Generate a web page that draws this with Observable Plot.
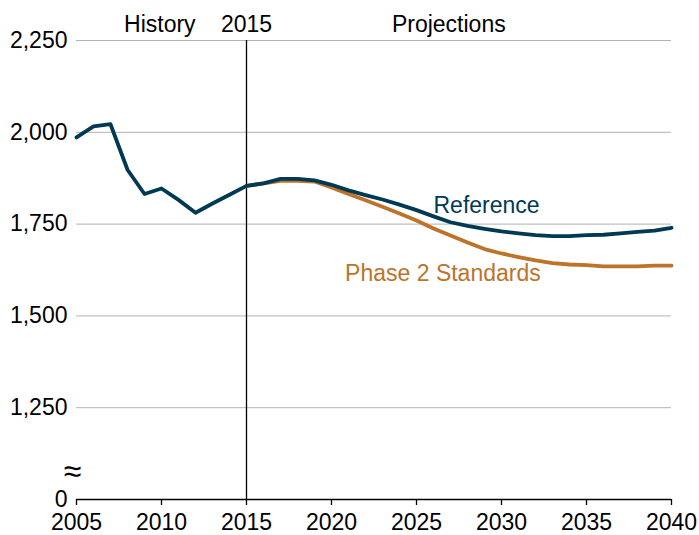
<!DOCTYPE html>
<html><head><meta charset="utf-8">
<script src="https://cdn.jsdelivr.net/npm/d3@7"></script>
<script src="https://cdn.jsdelivr.net/npm/@observablehq/plot@0.6"></script>
<style>
body{margin:0;background:#fff}
svg{font-family:"Liberation Sans",Arial,sans-serif}
</style>
</head><body><div id="chart"></div>
<script>
const years = [2005,2006,2007,2008,2009,2010,2011,2012,2013,2014,2015,2016,2017,2018,2019,2020,2021,2022,2023,2024,2025,2026,2027,2028,2029,2030,2031,2032,2033,2034,2035,2036,2037,2038,2039,2040];
const reference = [1986,2016,2022,1898,1832,1847,1816,1781,1806,1830,1854,1861,1873,1873,1869,1857,1842,1829,1817,1803,1788,1771,1755,1745,1737,1730,1725,1720,1717,1717,1720,1721,1725,1729,1732,1740];
const phase2Years = [2015,2016,2017,2018,2019,2020,2021,2022,2023,2024,2025,2026,2027,2028,2029,2030,2031,2032,2033,2034,2035,2036,2037,2038,2039,2040];
const phase2 = [1854,1861,1868,1868,1866,1850,1832,1815,1797,1779,1760,1738,1719,1700,1682,1670,1660,1651,1644,1640,1638,1635,1635,1635,1637,1637];

const xTicks = [2005,2010,2015,2020,2025,2030,2035,2040];
const yTicks = [1000,1250,1500,1750,2000,2250];
const yTickLabels = ["0","1,250","1,500","1,750","2,000","2,250"];
const gridValues = [1250,1500,1750,2000,2250];

const periodLabels = ["History","2015","Projections"];
const periodYears = [2009.9,2015,2026.9];

const seriesNames = ["Reference","Phase 2 Standards"];
const seriesLabelYears = [2026.0,2020.8];
const seriesLabelValues = [1779,1596];
const seriesColors = ["#003953","#bd732a"];

const refData = years.map((y,i)=>({year:y, value:reference[i]}));
const p2Data = phase2Years.map((y,i)=>({year:y, value:phase2[i]}));
const periodData = periodLabels.map((t,i)=>({t, x:periodYears[i]}));
const seriesLabelData = seriesNames.map((t,i)=>({t, x:seriesLabelYears[i], y:seriesLabelValues[i], c:seriesColors[i]}));
const breakData = [{x:2005, y:1076, t:"≈"}];

const fs = 23;
const plot = Plot.plot({
  width: 699, height: 535,
  marginLeft: 76, marginRight: 28, marginTop: 40, marginBottom: 36,
  style: {fontFamily: "Liberation Sans, Arial, sans-serif", fontSize: fs + "px", color: "#000", background: "#fff", overflow: "visible"},
  x: {domain: [2005, 2040]},
  y: {domain: [1000, 2250]},
  marks: [
    Plot.ruleY(gridValues, {stroke: "#b3b3b3", strokeWidth: 1}),
    Plot.axisY(yTicks, {tickSize: 0, tickPadding: 9, fontSize: fs, label: null, tickFormat: d => yTickLabels[yTicks.indexOf(d)]}),
    Plot.axisX(xTicks, {tickSize: 6, tickPadding: 8, fontSize: fs, label: null, tickFormat: d => String(d), strokeWidth: 1.3}),
    Plot.ruleX([2015], {stroke: "#000", strokeWidth: 1.3}),
    Plot.ruleY([1000], {stroke: "#000", strokeWidth: 1.3}),
    Plot.line(p2Data, {x: "year", y: "value", stroke: seriesColors[1], strokeWidth: 3.8}),
    Plot.line(refData, {x: "year", y: "value", stroke: seriesColors[0], strokeWidth: 3.8}),
    Plot.text(periodData, {x: "x", y: () => 2250, text: "t", lineAnchor: "bottom", dy: -9, fontSize: fs, fill: "#000"}),
    Plot.text(seriesLabelData, {x: "x", y: "y", text: "t", textAnchor: "start", lineAnchor: "bottom", fontSize: fs, fill: "c"}),
    Plot.text(breakData, {x: "x", y: "y", text: "t", dx: -4, fontSize: 32, fill: "#000"})
  ]
});
document.getElementById("chart").appendChild(plot);
</script>
</body></html>
